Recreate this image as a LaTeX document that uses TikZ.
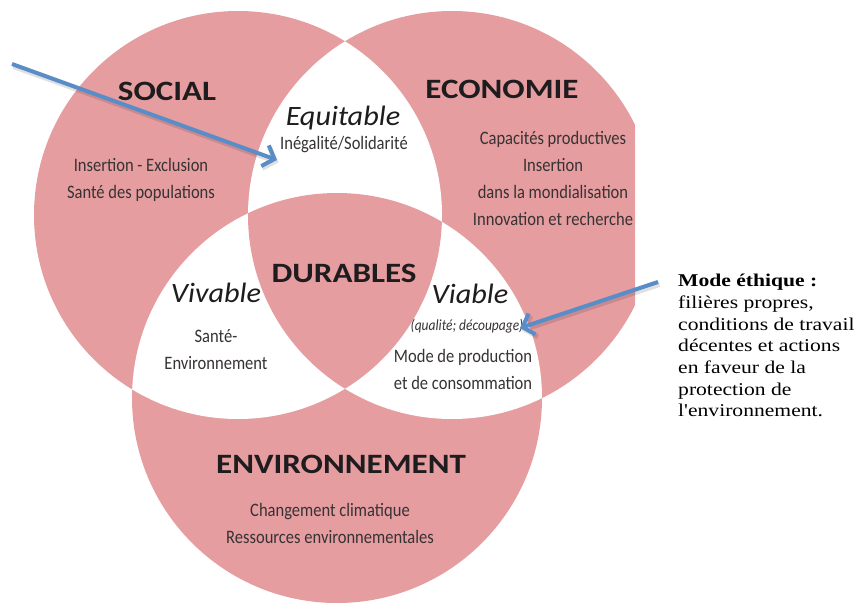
\documentclass[tikz,border=0pt]{standalone}
\usepackage{fontspec}
\usetikzlibrary{arrows.meta}
\newfontfamily\headfont{Carlito}[FakeStretch=1.18]
\newfontfamily\bodyfont{Carlito}[FakeStretch=0.87]
\newfontfamily\qualfont{Carlito}[FakeStretch=1.08]
\newfontfamily\notefont{Liberation Serif}[FakeStretch=1.2]
\definecolor{venn}{RGB}{230,157,160}
\definecolor{arrowblue}{RGB}{88,141,200}
\definecolor{txt}{RGB}{30,28,30}
\definecolor{bodytxt}{RGB}{55,50,52}
\begin{document}
\begin{tikzpicture}[x=1pt,y=-1pt,
  head/.style={font=\headfont\bfseries\fontsize{28}{30}\selectfont, text=txt, inner sep=0, anchor=base},
  qual/.style={font=\qualfont\itshape\fontsize{28}{30}\selectfont, text=txt, inner sep=0, anchor=base},
  body/.style={font=\bodyfont\fontsize{19}{27}\selectfont, text=bodytxt, align=center, inner sep=0, anchor=base},
  small/.style={font=\bodyfont\itshape\fontsize{15.5}{17}\selectfont, text=bodytxt, inner sep=0, anchor=base},
  note/.style={font=\notefont\fontsize{18}{21.7}\selectfont, text=black, align=left, inner sep=0, anchor=north west},
  blue arrow/.style={draw=arrowblue, line width=4pt, -{Straight Barb[length=10pt,width=22pt]}},
  arrow shadow/.style={draw=black, opacity=0.12, line width=5pt, -{Straight Barb[length=10pt,width=22pt]}}
]
\useasboundingbox (0,0) rectangle (855,603);
\fill[white] (0,0) rectangle (855,603);
% centres
\coordinate (S) at (238,215);
\coordinate (E) at (452,215);
\coordinate (V) at (337,398);
\begin{scope}
  \clip (0,0) rectangle (635,603);
  \fill[venn] (S) circle[radius=204pt];
  \fill[venn] (E) circle[radius=204pt];
  \fill[venn] (V) circle[radius=205pt];
  \begin{scope}
    \clip (S) circle[radius=204pt];
    \fill[white] (E) circle[radius=204pt];
    \fill[white] (V) circle[radius=205pt];
  \end{scope}
  \begin{scope}
    \clip (E) circle[radius=204pt];
    \fill[white] (V) circle[radius=205pt];
  \end{scope}
  \begin{scope}
    \clip (S) circle[radius=204pt];
    \clip (E) circle[radius=204pt];
    \fill[venn] (V) circle[radius=205pt];
  \end{scope}
\end{scope}
% headings
\node[head] (social) at (167,100) {SOCIAL};
\node[head] (eco) at (502,98) {ECONOMIE};
\node[head] (dur) at (344,282) {DURABLES};
\node[head] (env) at (341,473) {ENVIRONNEMENT};
% qualifiers
\node[qual] (equi) at (343,125) {Equitable};
\node[qual] (viva) at (216,302) {Vivable};
\node[qual] (viab) at (470,303) {Viable};
% bodies (base anchor = baseline of last line)
\node[body] (equib) at (344,149) {Inégalité/Solidarité};
\node[body] (socb) at (141,198) {Insertion - Exclusion\\Santé des populations};
\node[body] (ecob) at (553,225) {Capacités productives\\Insertion\\dans la mondialisation\\Innovation et recherche};
\node[body] (vivb) at (216,369) {Santé-\\Environnement};
\node[small] (viabq) at (467,330) {(qualité; découpage)};
\node[body] (viabb) at (463,389) {Mode de production\\et de consommation};
\node[body] (envb) at (330,543) {Changement climatique\\Ressources environnementales};
% note
\node[note] (note) at (678,274) {\textbf{Mode éthique :}\\filières propres,\\conditions de travail\\décentes et actions\\en faveur de la\\protection de\\l'environnement.};
% arrows
\coordinate (a1s) at (12,64);
\coordinate (a1e) at (277,160);
\coordinate (a2s) at (658,282);
\coordinate (a2e) at (520,328);
\draw[arrow shadow] ([shift={(1.5,2.5)}]a1s) -- ([shift={(1.5,2.5)}]a1e);
\draw[arrow shadow] ([shift={(1.5,2.5)}]a2s) -- ([shift={(1.5,2.5)}]a2e);
\draw[blue arrow] (a1s) -- (a1e);
\draw[blue arrow] (a2s) -- (a2e);
\end{tikzpicture}
\end{document}
